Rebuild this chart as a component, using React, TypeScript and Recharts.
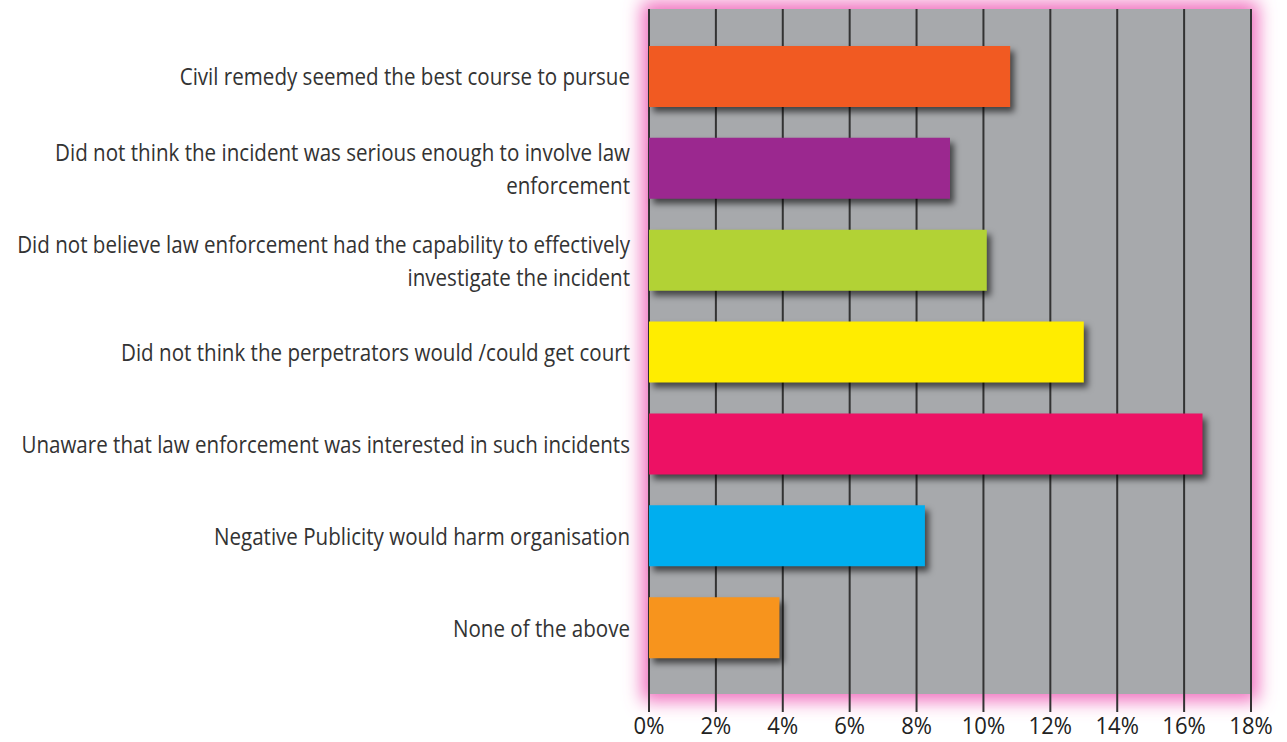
import { Bar, BarChart, CartesianGrid, Cell, XAxis, YAxis } from "recharts";

const CATEGORIES = [
  "Civil remedy seemed the best course to pursue",
  "Did not think the incident was serious enough to involve law\nenforcement",
  "Did not believe law enforcement had the capability to effectively\ninvestigate the incident",
  "Did not think the perpetrators would /could get court",
  "Unaware that law enforcement was interested in such incidents",
  "Negative Publicity would harm organisation",
  "None of the above",
];

const VALUES = [10.8, 9.0, 10.1, 13.0, 16.55, 8.25, 3.9];

const X_TICKS = [0, 2, 4, 6, 8, 10, 12, 14, 16, 18];

const BAR_COLORS = [
  "#F15A22",
  "#9B288F",
  "#B2D235",
  "#FFED00",
  "#ED1164",
  "#00AEEF",
  "#F7941D",
];

const chartData = CATEGORIES.map((reason, index) => ({
  reason,
  value: VALUES[index],
}));

const FONT = '"Open Sans", sans-serif';
const LINE_HEIGHT = 33;
// the source font is condensed, squeeze Open Sans a bit to match
const SQUEEZE = 0.84;

function ReasonTick({ x, y, payload }: any) {
  const lines: string[] = String(payload.value).split("\n");
  const start = (-(lines.length - 1) * LINE_HEIGHT) / 2 + 8.5;

  return (
    <g transform={`translate(${x},${y}) scale(${SQUEEZE},1)`}>
      <text
        x={0}
        y={0}
        textAnchor="end"
        fill="#333333"
        fontSize={24.5}
        fontFamily={FONT}
      >
        {lines.map((line, i) => (
          <tspan key={i} x={0} dy={i === 0 ? start : LINE_HEIGHT}>
            {line}
          </tspan>
        ))}
      </text>
    </g>
  );
}

function PercentTick({ x, y, payload }: any) {
  return (
    <g transform={`translate(${x},${y}) scale(0.92,1)`}>
      <text
        x={0}
        y={0}
        dy={16}
        textAnchor="middle"
        fill="#222222"
        fontSize={24}
        fontFamily={FONT}
      >
        {`${payload.value}%`}
      </text>
    </g>
  );
}

export default function App() {
  return (
    <div
      style={{
        position: "absolute",
        left: 0,
        top: 0,
        width: 1287,
        height: 742,
        background: "#ffffff",
      }}
    >
      <svg width={0} height={0} style={{ position: "absolute" }}>
        <defs>
          <filter id="pinkGlow" x="-10%" y="-10%" width="120%" height="120%">
            <feMorphology in="SourceAlpha" operator="dilate" radius={7} result="grown" />
            <feGaussianBlur in="grown" stdDeviation={9} result="blur" />
            <feFlood floodColor="#F06FBE" />
            <feComposite in2="blur" operator="in" result="glow" />
            <feMerge>
              <feMergeNode in="glow" />
              <feMergeNode in="SourceGraphic" />
            </feMerge>
          </filter>
        </defs>
      </svg>
      <style>{`
        .recharts-cartesian-grid-bg {
          filter: url(#pinkGlow);
        }
        .recharts-bar-rectangle {
          filter: drop-shadow(4px 5px 3px rgba(0, 0, 0, 0.6));
        }
      `}</style>
      <BarChart
        width={1287}
        height={742}
        data={chartData}
        layout="vertical"
        margin={{ top: 9, right: 36, left: 0, bottom: 0 }}
      >
        <CartesianGrid
          horizontal={false}
          vertical
          fill="#A7A9AC"
          fillOpacity={1}
          stroke="#333333"
          strokeWidth={2}
        />
        <XAxis
          type="number"
          domain={[0, 18]}
          ticks={X_TICKS}
          interval={0}
          height={48}
          axisLine={false}
          tickLine={{ stroke: "#333333", strokeWidth: 2 }}
          tickSize={18}
          tickMargin={6}
          tick={<PercentTick />}
        />
        <YAxis
          type="category"
          dataKey="reason"
          width={649}
          axisLine={false}
          tickLine={false}
          tickMargin={13}
          interval={0}
          padding={{ top: 22, bottom: 20 }}
          tick={<ReasonTick />}
        />
        <Bar dataKey="value" barSize={61} isAnimationActive={false}>
          {chartData.map((entry, index) => (
            <Cell key={entry.reason} fill={BAR_COLORS[index]} />
          ))}
        </Bar>
      </BarChart>
    </div>
  );
}
